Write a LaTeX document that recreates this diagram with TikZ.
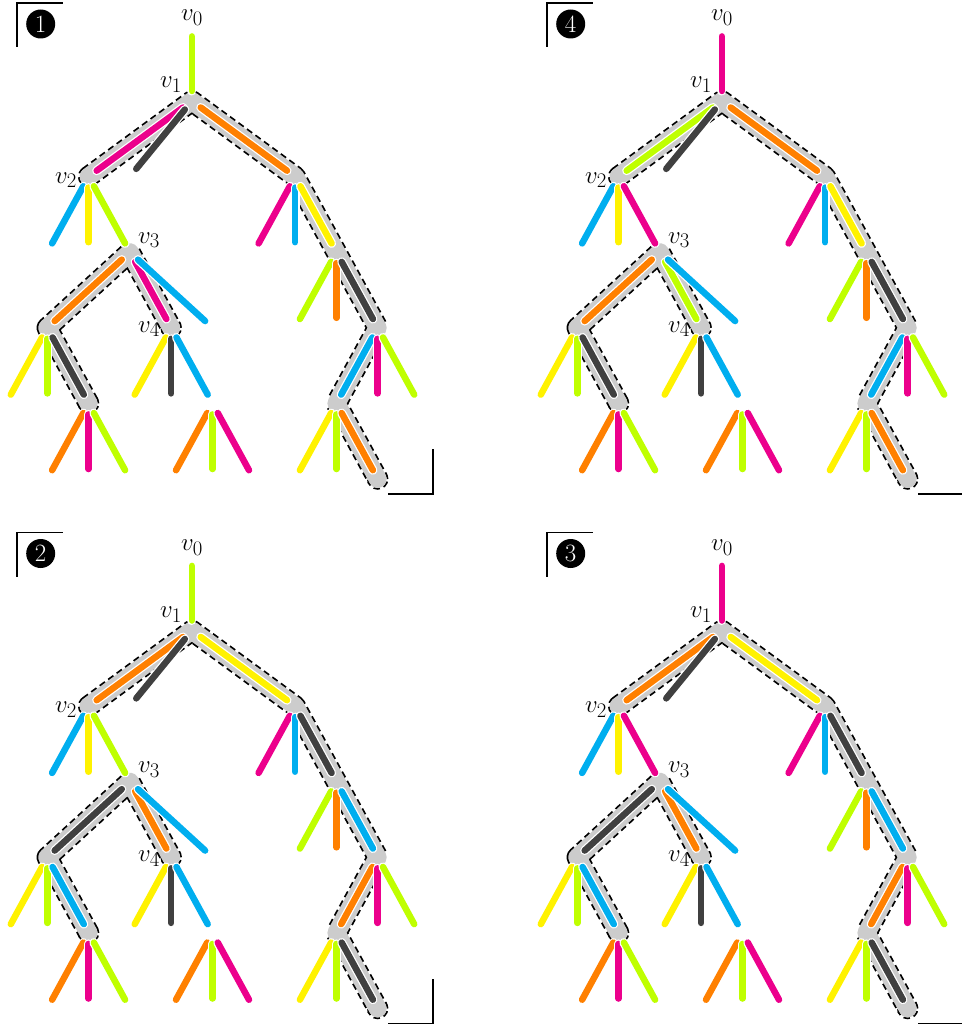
\documentclass[tikz,border=0pt]{standalone}
\definecolor{clime}{HTML}{BFFF00}
\definecolor{cmag}{HTML}{EC008C}
\definecolor{cdark}{HTML}{404040}
\definecolor{corange}{HTML}{FF8000}
\definecolor{ccyan}{HTML}{00AEEF}
\definecolor{cyellow}{HTML}{FFF200}
\definecolor{hlgray}{HTML}{CCCCCC}
\tikzset{
  edge/.style={draw=#1, line width=6.5pt, line cap=round, shorten <=11pt, shorten >=10pt,
    preaction={draw=white, line width=9pt, line cap=round, shorten <=11pt, shorten >=10pt}},
  hlout/.style={draw=black, line width=21.5pt, dash pattern=on 6.5pt off 4pt, line cap=butt, line join=round},
  hlcap/.style={draw=black, line width=1.75pt, dash pattern=on 6.5pt off 4pt},
  hlin/.style={draw=hlgray, line width=18pt, line cap=round, line join=round},
  lab/.style={inner sep=0pt, anchor=base west, font=\fontsize{24.88}{30}\selectfont},
  numc/.style={circle, fill=black, text=white, inner sep=0pt, minimum size=29pt, font=\fontsize{24.88}{30}\selectfont},
  cornermark/.style={draw=black, line width=1.6pt}
}
\newcommand\drawpanel[3]{%
\begin{scope}[shift={(#1,#2)}]
 \begin{scope}[shift={(6,101)},x=41.3pt,y=-75.6pt]
  \coordinate (v0) at (4.5,-1);
  \coordinate (v1) at (4.5,0);
  \coordinate (v2) at (2,1); \coordinate (D) at (3,1); \coordinate (R1) at (7,1);
  \coordinate (a) at (1,2); \coordinate (b) at (2,2); \coordinate (v3) at (3,2);
  \coordinate (c) at (6,2); \coordinate (d) at (7,2); \coordinate (R2) at (8,2);
  \coordinate (L) at (1,3); \coordinate (v4) at (4,3); \coordinate (e) at (5,3);
  \coordinate (f) at (7,3); \coordinate (g) at (8,3); \coordinate (R3) at (9,3);
  \coordinate (h) at (0,4); \coordinate (i) at (1,4); \coordinate (LL) at (2,4);
  \coordinate (j) at (3,4); \coordinate (k) at (4,4); \coordinate (X) at (5,4);
  \coordinate (R4) at (8,4); \coordinate (m) at (9,4); \coordinate (n) at (10,4);
  \coordinate (o) at (1,5); \coordinate (p) at (2,5); \coordinate (q) at (3,5);
  \coordinate (r) at (4,5); \coordinate (s) at (5,5); \coordinate (t) at (6,5);
  \coordinate (u) at (7,5); \coordinate (w) at (8,5); \coordinate (R5) at (9,5);
  % highlighted paths
  \draw[hlout] (v2)--(v1)--(R1)--(R2)--(R3)--(R4)--(R5);
  \draw[hlout] (LL)--(L)--(v3)--(v4);
  \foreach \n in {v2,R5,LL,v4} \draw[hlcap] (\n) circle (9.875pt);
  \draw[hlin] (v2)--(v1)--(R1)--(R2)--(R3)--(R4)--(R5);
  \draw[hlin] (LL)--(L)--(v3)--(v4);
  % edges
  \draw[edge=\cA] (v0)--(v1);
  \draw[edge=\cB] (v1)--(v2);
  \draw[edge=cdark] (v1)--(D);
  \draw[edge=\cC] (v1)--(R1);
  \draw[edge=ccyan] (v2)--(a);
  \draw[edge=cyellow] (v2)--(b);
  \draw[edge=\cD] (v2)--(v3);
  \draw[edge=cmag] (R1)--(c);
  \draw[edge=ccyan] (R1)--(d);
  \draw[edge=\cE] (R1)--(R2);
  \draw[edge=\cG] (v3)--(L);
  \draw[edge=\cF] (v3)--(v4);
  \draw[edge=ccyan] (v3)--(e);
  \draw[edge=clime] (R2)--(f);
  \draw[edge=corange] (R2)--(g);
  \draw[edge=\cH] (R2)--(R3);
  \draw[edge=cyellow] (L)--(h);
  \draw[edge=clime] (L)--(i);
  \draw[edge=\cI] (L)--(LL);
  \draw[edge=cyellow] (v4)--(j);
  \draw[edge=cdark] (v4)--(k);
  \draw[edge=ccyan] (v4)--(X);
  \draw[edge=\cJ] (R3)--(R4);
  \draw[edge=cmag] (R3)--(m);
  \draw[edge=clime] (R3)--(n);
  \draw[edge=corange] (LL)--(o);
  \draw[edge=cmag] (LL)--(p);
  \draw[edge=clime] (LL)--(q);
  \draw[edge=corange] (X)--(r);
  \draw[edge=clime] (X)--(s);
  \draw[edge=cmag] (X)--(t);
  \draw[edge=cyellow] (R4)--(u);
  \draw[edge=clime] (R4)--(w);
  \draw[edge=\cK] (R4)--(R5);
 \end{scope}
 \node[lab] (l0) at (181,21) {$v_0$};
 \node[lab] (l1) at (160,88) {$v_1$};
 \node[lab] (l2) at (55,183) {$v_2$};
 \node[lab] (l3) at (138,243) {$v_3$};
 \node[lab] (l4) at (138,332) {$v_4$};
 \node[numc] (num) at (40.7,24) {#3};
 \draw[cornermark] (17,47)--(17,3)--(63,3);
 \draw[cornermark] (388,494)--(433,494)--(433,449);
\end{scope}}
\begin{document}
\begin{tikzpicture}[x=1pt,y=-1pt]
\useasboundingbox (0,0) rectangle (961,1027);
% panel 1
\def\cA{clime}\def\cB{cmag}\def\cC{corange}\def\cD{clime}\def\cE{cyellow}\def\cF{cmag}
\def\cG{corange}\def\cH{cdark}\def\cI{cdark}\def\cJ{ccyan}\def\cK{corange}
\drawpanel{0}{0}{1}
% panel 4
\def\cA{cmag}\def\cB{clime}\def\cC{corange}\def\cD{cmag}\def\cE{cyellow}\def\cF{clime}
\def\cG{corange}\def\cH{cdark}\def\cI{cdark}\def\cJ{ccyan}\def\cK{corange}
\drawpanel{530}{0}{4}
% panel 2
\def\cA{clime}\def\cB{corange}\def\cC{cyellow}\def\cD{clime}\def\cE{cdark}\def\cF{corange}
\def\cG{cdark}\def\cH{ccyan}\def\cI{ccyan}\def\cJ{corange}\def\cK{cdark}
\drawpanel{0}{529.5}{2}
% panel 3
\def\cA{cmag}\def\cB{corange}\def\cC{cyellow}\def\cD{cmag}\def\cE{cdark}\def\cF{corange}
\def\cG{cdark}\def\cH{ccyan}\def\cI{ccyan}\def\cJ{corange}\def\cK{cdark}
\drawpanel{530}{529.5}{3}
\end{tikzpicture}
\end{document}
